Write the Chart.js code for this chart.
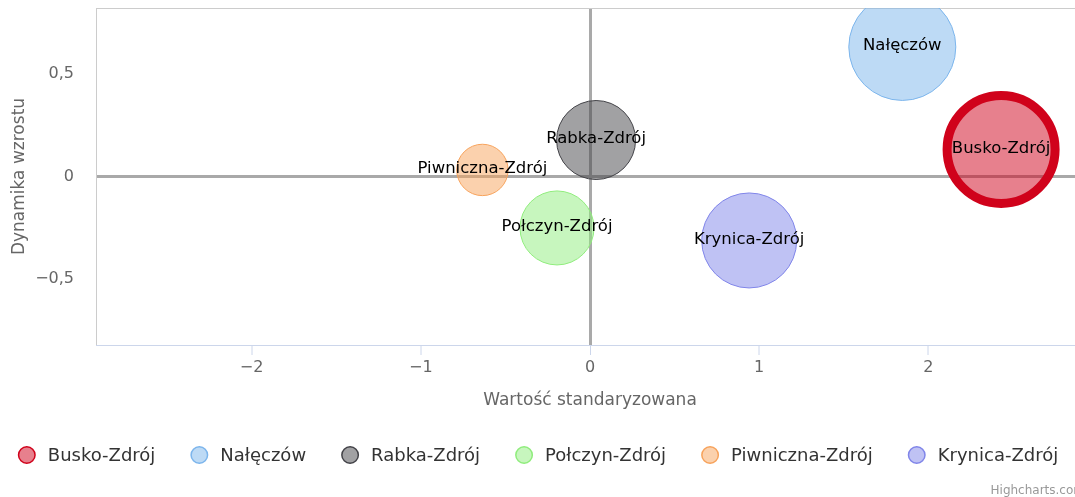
<!DOCTYPE html>
<html>
<head>
<meta charset="utf-8">
<script src="https://cdn.jsdelivr.net/npm/chart.js@4/dist/chart.umd.min.js"></script>
<style>
  html, body { margin: 0; padding: 0; background: #fff; overflow: hidden; }
  #wrap { position: relative; width: 1095px; height: 497px; }
</style>
</head>
<body>
<div id="wrap"><canvas id="c"></canvas></div>
<script>
// ---- data ----
const towns = ['Busko-Zdrój', 'Nałęczów', 'Rabka-Zdrój', 'Połczyn-Zdrój', 'Piwniczna-Zdrój', 'Krynica-Zdrój'];
const xValues = [2.43, 1.846, 0.036, -0.195, -0.636, 0.941];
const yValues = [0.132, 0.632, 0.178, -0.251, 0.032, -0.312];
const bubbleSize = [54, 53.5, 39.5, 37, 25.7, 47.5];
const xTicks = [-2, -1, 0, 1, 2];
const yTicks = [-0.5, 0, 0.5];
const xTitle = 'Wartość standaryzowana';
const yTitle = 'Dynamika wzrostu';
const credits = 'Highcharts.com';

// ---- styles ----
const fills = ['rgba(208,2,27,0.5)', 'rgba(124,181,236,0.5)', 'rgba(67,67,72,0.5)', 'rgba(144,237,125,0.5)', 'rgba(247,163,92,0.5)', 'rgba(128,133,233,0.5)'];
const strokes = ['#d0021b', '#7cb5ec', '#434348', '#90ed7d', '#f7a35c', '#8085e9'];
const strokeW = [9, 1, 1, 1, 1, 1];
const FONT = '"DejaVu Sans", "Noto Sans", sans-serif';

const fmt = v => String(v).replace('.', ',').replace('-', '\u2212');

const datasets = towns.map((t, i) => ({
  label: t,
  data: [{ x: xValues[i], y: yValues[i], r: bubbleSize[i] }],
  backgroundColor: fills[i],
  borderColor: strokes[i],
  borderWidth: strokeW[i],
  hoverBorderWidth: strokeW[i],
  clip: 0
}));

const zeroColor = ctx => (ctx.tick && ctx.tick.value === 0) ? '#a9a9a9' : 'rgba(0,0,0,0)';
const zeroWidth = ctx => (ctx.tick && ctx.tick.value === 0) ? 3 : 0;

const framePlugin = {
  id: 'frame',
  beforeDatasetsDraw(chart) {
    const { ctx, chartArea: a } = chart;
    ctx.save();
    ctx.strokeStyle = '#cccccc';
    ctx.lineWidth = 1;
    ctx.beginPath();
    ctx.moveTo(a.left, a.top + 0.5);
    ctx.lineTo(a.right, a.top + 0.5);
    ctx.moveTo(a.right - 0.5, a.top);
    ctx.lineTo(a.right - 0.5, a.bottom);
    ctx.stroke();
    ctx.restore();
  }
};

const labelPlugin = {
  id: 'bubbleLabels',
  afterDatasetsDraw(chart) {
    const { ctx } = chart;
    ctx.save();
    ctx.font = '16.5px ' + FONT;
    ctx.fillStyle = '#000';
    ctx.textAlign = 'center';
    ctx.textBaseline = 'middle';
    chart.data.datasets.forEach((ds, i) => {
      const meta = chart.getDatasetMeta(i);
      meta.data.forEach(el => ctx.fillText(ds.label, el.x, el.y - 1));
    });
    ctx.restore();
  }
};

const legendPlugin = {
  id: 'customLegend',
  afterDraw(chart) {
    const { ctx } = chart;
    const dsets = chart.data.datasets;
    ctx.save();
    ctx.font = '18px ' + FONT;
    const markerD = 18, textGap = 12, itemGap = 35;
    const widths = dsets.map(d => markerD + textGap + ctx.measureText(d.label).width);
    const total = widths.reduce((a, b) => a + b, 0) + itemGap * (dsets.length - 1);
    let x = 538 - total / 2;
    const y = 455;
    dsets.forEach((d, i) => {
      ctx.beginPath();
      ctx.arc(x + markerD / 2, y, markerD / 2 - 0.75, 0, Math.PI * 2);
      ctx.fillStyle = d.backgroundColor;
      ctx.fill();
      ctx.lineWidth = 1.5;
      ctx.strokeStyle = d.borderColor;
      ctx.stroke();
      ctx.fillStyle = '#333333';
      ctx.textAlign = 'left';
      ctx.textBaseline = 'middle';
      ctx.fillText(d.label, x + markerD + textGap, y + 1);
      x += widths[i] + itemGap;
    });
    ctx.font = '12px ' + FONT;
    ctx.fillStyle = '#999999';
    ctx.textAlign = 'right';
    ctx.textBaseline = 'alphabetic';
    ctx.fillText(credits, chart.width - 10, 494);
    ctx.restore();
  }
};

const noPad = s => { s.paddingTop = 0; s.paddingBottom = 0; s.paddingLeft = 0; s.paddingRight = 0; };

new Chart(document.getElementById('c'), {
  type: 'bubble',
  data: { datasets },
  options: {
    responsive: true,
    maintainAspectRatio: false,
    animation: false,
    layout: { autoPadding: false, padding: { top: 8, left: 0, right: 11, bottom: 82 } },
    plugins: { legend: { display: false }, tooltip: { enabled: false } },
    scales: {
      x: {
        type: 'linear',
        min: -2.92, max: 2.92,
        afterBuildTicks: s => { s.ticks = xTicks.map(v => ({ value: v })); },
        afterFit: s => { s.height = 70; noPad(s); },
        ticks: { callback: v => fmt(v), color: '#666666', font: { family: FONT, size: 16 }, padding: 3, maxRotation: 0 },
        grid: { color: zeroColor, lineWidth: zeroWidth, tickColor: '#ccd6eb', tickLength: 10, tickWidth: 1, drawTicks: true },
        border: { color: '#ccd6eb', width: 1 },
        title: { display: true, text: xTitle, color: '#666666', font: { family: FONT, size: 17 }, padding: { top: 0, bottom: 4 } }
      },
      y: {
        type: 'linear',
        min: -0.822, max: 0.822,
        afterBuildTicks: s => { s.ticks = yTicks.map(v => ({ value: v })); },
        afterFit: s => { s.width = 96; noPad(s); },
        ticks: { callback: v => fmt(v), color: '#666666', font: { family: FONT, size: 16 }, padding: 22 },
        grid: { color: zeroColor, lineWidth: zeroWidth, drawTicks: false },
        border: { color: '#cccccc', width: 1 },
        title: { display: true, text: yTitle, color: '#666666', font: { family: FONT, size: 17 }, padding: { top: 9, bottom: 0 } }
      }
    }
  },
  plugins: [framePlugin, labelPlugin, legendPlugin]
});
</script>
</body>
</html>
